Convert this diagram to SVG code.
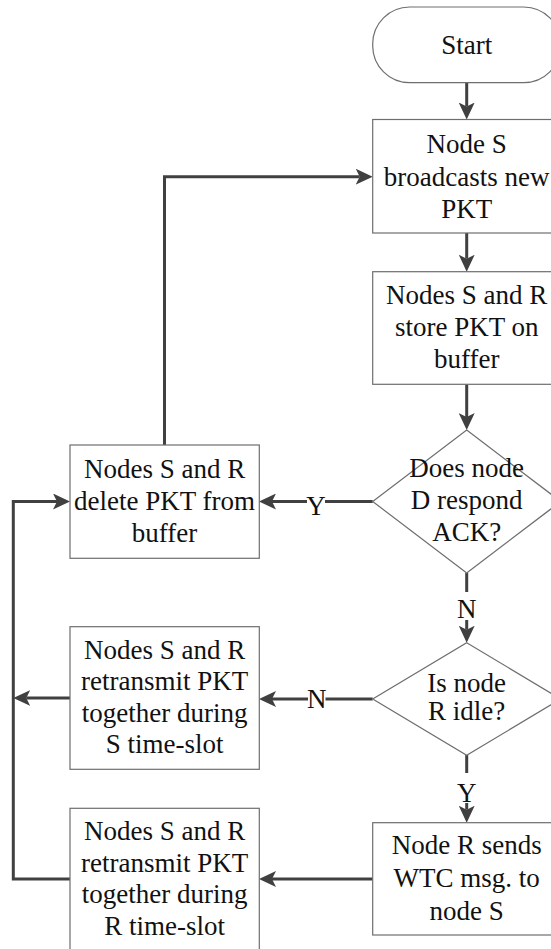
<svg xmlns="http://www.w3.org/2000/svg" width="551" height="949" viewBox="0 0 551 949">
<defs>
<style>
.box{fill:#fff;stroke:#6e6e6e;stroke-width:1.2}
.t{font-family:"Liberation Serif","DejaVu Serif",serif;font-size:27px;fill:#111;text-anchor:middle}
.c{fill:none;stroke:#404040;stroke-width:3;stroke-linejoin:miter}
.bg{fill:#fff}
</style>
<marker id="ah" viewBox="0 0 17 16" markerWidth="17" markerHeight="16" refX="4" refY="8" orient="auto" markerUnits="userSpaceOnUse">
<path d="M0,0 L17,8 L0,16 L4,8 Z" fill="#404040"/>
</marker>
</defs>
<rect width="551" height="949" fill="#fff"/>

<g id="connectors">
<path class="c" d="M466.7,82.7 V106.5" marker-end="url(#ah)"/>
<path class="c" d="M466.7,233 V258.7" marker-end="url(#ah)"/>
<path class="c" d="M466.7,384.3 V417" marker-end="url(#ah)"/>
<path class="c" d="M372.7,501.5 H272" marker-end="url(#ah)"/>
<path class="c" d="M466.7,573 V592"/>
<path class="c" d="M466.7,620 V629.7" marker-end="url(#ah)"/>
<path class="c" d="M372.7,699 H272" marker-end="url(#ah)"/>
<path class="c" d="M466.7,755 V773"/>
<path class="c" d="M466.7,803 V809.7" marker-end="url(#ah)"/>
<path class="c" d="M372.7,879 H272" marker-end="url(#ah)"/>
<path class="c" d="M164.5,445 V176.7 H359.7" marker-end="url(#ah)"/>
<path class="c" d="M70,879 H13.3 V501.5 H57" marker-end="url(#ah)"/>
<path class="c" d="M70,698 H26.3" marker-end="url(#ah)"/>
<rect class="bg" x="307" y="494" width="18" height="16"/>
<text class="t" x="316" y="515">Y</text>
<text class="t" x="466.7" y="618">N</text>
<rect class="bg" x="308" y="691" width="17.5" height="16"/>
<text class="t" x="316.7" y="708">N</text>
<text class="t" x="466.7" y="801.7">Y</text>
</g>

<g id="start">
<rect class="box" x="372.7" y="7" width="188" height="75.7" rx="37" ry="37"/>
<text class="t" x="466.7" y="53.5">Start</text>
</g>

<g id="broadcast">
<rect class="box" x="372.7" y="119.5" width="189" height="113.5"/>
<text class="t" x="466.7" y="153">Node S</text>
<text class="t" x="466.7" y="186">broadcasts new</text>
<text class="t" x="466.7" y="218">PKT</text>
</g>

<g id="store">
<rect class="box" x="372.7" y="271.7" width="189" height="112.6"/>
<text class="t" x="466.7" y="303.5">Nodes S and R</text>
<text class="t" x="466.7" y="335.5">store PKT on</text>
<text class="t" x="466.7" y="367.5">buffer</text>
</g>

<g id="ack">
<path class="box" d="M466.7,430 L560.7,501.5 L466.7,573 L372.7,501.5 Z"/>
<text class="t" x="466.7" y="477">Does node</text>
<text class="t" x="466.7" y="509">D respond</text>
<text class="t" x="466.7" y="541">ACK?</text>
</g>

<g id="delete">
<rect class="box" x="70" y="445" width="189.3" height="113.3"/>
<text class="t" x="164.6" y="478">Nodes S and R</text>
<text class="t" x="164.6" y="510">delete PKT from</text>
<text class="t" x="164.6" y="542">buffer</text>
</g>

<g id="idle">
<path class="box" d="M466.7,642.7 L560.7,699 L466.7,755.3 L372.7,699 Z"/>
<text class="t" x="466.7" y="691.5">Is node</text>
<text class="t" x="466.7" y="720">R idle?</text>
</g>

<g id="retx-s">
<rect class="box" x="70" y="626.7" width="189.3" height="142.6"/>
<text class="t" x="164.6" y="658.5">Nodes S and R</text>
<text class="t" x="164.6" y="690">retransmit PKT</text>
<text class="t" x="164.6" y="721.5">together during</text>
<text class="t" x="164.6" y="753">S time-slot</text>
</g>

<g id="wtc">
<rect class="box" x="372.7" y="822.7" width="189" height="112.3"/>
<text class="t" x="466.7" y="854">Node R sends</text>
<text class="t" x="466.7" y="887">WTC msg.  to</text>
<text class="t" x="466.7" y="920">node S</text>
</g>

<g id="retx-r">
<rect class="box" x="70" y="808.3" width="189.3" height="143"/>
<text class="t" x="164.6" y="840">Nodes S and R</text>
<text class="t" x="164.6" y="871.5">retransmit PKT</text>
<text class="t" x="164.6" y="903">together during</text>
<text class="t" x="164.6" y="934.5">R time-slot</text>
</g>
</svg>
